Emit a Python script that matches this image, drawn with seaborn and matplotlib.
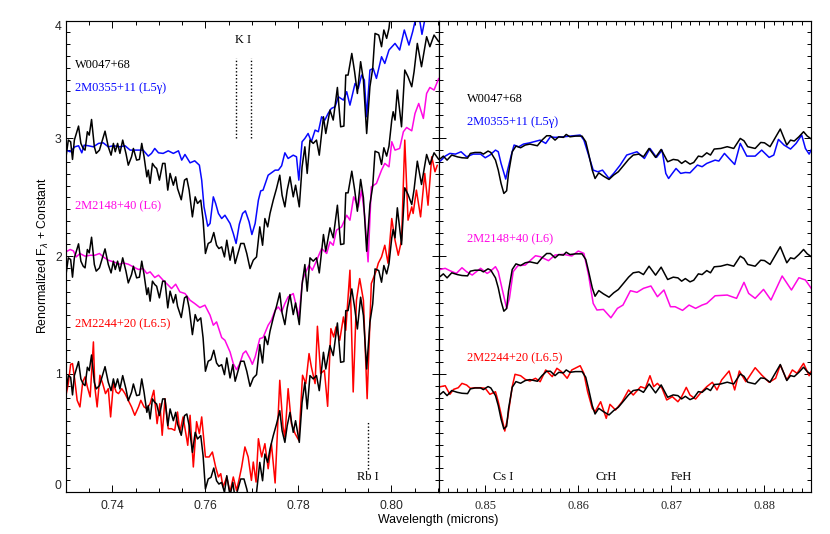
import matplotlib
matplotlib.use("Agg")
import matplotlib.pyplot as plt
import numpy as np
import seaborn as sns
from matplotlib.ticker import MultipleLocator

# ---- left panel spectra: wavelength (microns) and flux ----
wl_black_l = [.7300,.7305,.7310,.7314,.7318,.7327,.7332,.7337,.7341,.7346,.7350,.7355,.7361,.7365,.7372,.7384,.7391,.7397,.7402,.7406,.7411,.7416,.7422,.7429,.7434,.7441,.7445,.7452,.7458,.7463,.7468,.7474,.7477,.7481,.7486,.7491,.7495,.7501,.7508,.7513,.7519,.7524,.7531,.7536,.7540,.7548,.7555,.7560,.7565,.7572,.7578,.7583,.7590,.7595,.7600,.7606,.7612,.7618,.7624,.7629,.7635,.7641,.7646,.7653,.7659,.7664,.7671,.7676,.7683,.7689,.7696,.7703,.7710,.7717,.7723,.7728,.7734,.7739,.7746,.7753,.7760,.7765,.7771,.7776,.7782,.7789,.7794,.7802,.7808,.7814,.7819,.7825,.7832,.7839,.7845,.7854,.7859,.7868,.7875,.7884,.7891,.7898,.7902,.7907,.7915,.7921,.7927,.7934,.7940,.7947,.7954,.7960,.7965,.7973,.7979,.7984,.7990,.7995,.8001,.8004,.8008,.8013,.8022,.8029,.8036,.8044,.8049,.8056,.8065,.8076,.8083,.8092,.8102]
fx_black_l = [.844,.986,.972,.822,.986,1.105,.958,.915,.901,1.057,1.028,1.161,.929,.873,.901,1.062,.929,.858,.958,.887,.958,.873,.986,.873,.773,.844,.915,.816,.822,.958,.844,.674,.731,.618,.788,.759,.745,.646,.788,.788,.561,.703,.603,.674,.575,.479,.646,.660,.561,.334,.504,.448,.476,.306,.023,.108,.122,.201,.093,.065,.079,-.006,.136,-.034,.079,-.062,.037,.108,.108,.023,-.105,-.034,-.006,.249,.093,.320,.249,.363,.476,.575,.688,.518,.419,.561,.674,.504,.603,.419,.759,.929,.703,.986,.958,.986,.858,1.184,1.042,1.241,1.156,1.433,1.099,1.105,1.538,1.538,1.722,1.567,1.382,1.652,1.496,1.042,1.439,1.595,1.892,1.878,1.779,1.921,1.850,1.935,2.156,2.227,2.156,2.411,2.099,2.581,2.524,2.439,2.567,2.807,2.609,2.864,2.779,2.878,2.822]
wl_blue_l = [.7300,.7309,.7319,.7327,.7334,.7339,.7348,.7359,.7370,.7380,.7391,.7402,.7416,.7427,.7438,.7452,.7466,.7477,.7484,.7491,.7499,.7509,.7520,.7531,.7542,.7549,.7556,.7567,.7577,.7587,.7592,.7597,.7605,.7610,.7617,.7622,.7628,.7635,.7642,.7653,.7660,.7666,.7673,.7680,.7686,.7694,.7700,.7707,.7714,.7719,.7724,.7735,.7742,.7750,.7757,.7764,.7771,.7778,.7789,.7796,.7801,.7808,.7814,.7821,.7828,.7836,.7843,.7850,.7857,.7864,.7871,.7879,.7886,.7897,.7904,.7911,.7922,.7929,.7936,.7942,.7947,.7954,.7961,.7968,.7979,.7986,.7995,.8008,.8018,.8028,.8038,.8046,.8051,.8061,.8066,.8072,.8079,.8102]
fx_blue_l = [2.901,2.887,2.929,2.938,2.878,2.943,2.938,2.929,2.958,2.963,2.929,2.938,2.929,2.938,2.901,2.901,2.901,2.850,2.873,2.915,2.878,2.873,2.895,2.873,2.895,2.816,2.864,2.793,2.810,2.773,2.646,2.419,2.255,2.278,2.504,2.448,2.363,2.320,2.348,2.278,2.193,2.108,2.272,2.363,2.385,2.292,2.184,2.278,2.476,2.555,2.561,2.688,2.708,2.731,2.731,2.768,2.878,2.830,2.858,2.844,2.646,2.972,3.0,3.042,2.972,3.071,3.057,3.184,3.156,3.212,3.255,3.269,3.354,3.326,3.397,3.283,3.467,3.425,3.538,3.496,3.184,3.581,3.595,3.510,3.694,3.637,3.751,3.807,3.751,3.921,3.793,3.907,3.992,4.006,3.884,4.006,4.12,4.18]
wl_mag_l = [.7300,.7309,.7316,.7322,.7330,.7341,.7352,.7362,.7372,.7380,.7391,.7402,.7416,.7423,.7434,.7445,.7456,.7466,.7474,.7481,.7491,.7499,.7509,.7520,.7527,.7536,.7545,.7556,.7567,.7577,.7588,.7599,.7610,.7617,.7624,.7635,.7642,.7653,.7660,.7667,.7674,.7681,.7687,.7696,.7701,.7707,.7717,.7724,.7735,.7742,.7750,.7757,.7764,.7771,.7778,.7789,.7796,.7801,.7809,.7816,.7823,.7830,.7838,.7850,.7861,.7868,.7875,.7882,.7893,.7904,.7911,.7919,.7929,.7936,.7943,.7950,.7957,.7968,.7979,.7986,.7995,.8001,.8008,.8018,.8026,.8033,.8044,.8051,.8059,.8069,.8076,.8083,.8092,.8102]
fx_mag_l = [2.037,2.057,2.045,1.994,2.023,2.0,2.008,2.008,2.023,1.994,1.966,1.952,1.932,1.943,1.932,1.909,1.887,1.895,1.853,1.867,1.819,1.839,1.796,1.754,1.725,1.762,1.697,1.683,1.626,1.598,1.564,1.584,1.499,1.414,1.442,1.309,1.286,1.187,1.088,1.037,1.088,1.173,1.195,1.130,1.082,1.144,1.300,1.309,1.414,1.456,1.541,1.569,1.527,1.598,1.654,1.683,1.569,1.484,1.796,1.867,1.924,1.881,1.952,2.065,2.023,2.122,2.093,2.221,2.249,2.348,2.306,2.504,2.419,2.561,2.334,1.952,2.589,2.618,2.731,2.788,2.759,2.972,2.901,2.915,3.057,3.093,3.065,3.212,3.297,3.170,3.382,3.433,3.411,3.510]
wl_red_l = [.7300,.7305,.7310,.7314,.7319,.7324,.7330,.7336,.7341,.7346,.7352,.7359,.7362,.7367,.7373,.7379,.7385,.7391,.7396,.7402,.7408,.7413,.7420,.7427,.7434,.7441,.7448,.7456,.7461,.7468,.7474,.7481,.7489,.7496,.7502,.7507,.7513,.7520,.7527,.7534,.7540,.7545,.7552,.7562,.7567,.7574,.7581,.7587,.7592,.7600,.7608,.7615,.7622,.7628,.7633,.7638,.7646,.7653,.7660,.7667,.7672,.7678,.7685,.7692,.7699,.7703,.7709,.7714,.7721,.7728,.7735,.7742,.7750,.7760,.7767,.7771,.7778,.7785,.7793,.7801,.7809,.7816,.7823,.7828,.7836,.7841,.7848,.7856,.7863,.7870,.7876,.7881,.7889,.7897,.7902,.7911,.7918,.7925,.7932,.7940,.7948,.7957,.7968,.7972,.7979,.7986,.7993,.8001,.8008,.8015,.8022,.8029,.8036,.8044,.8047,.8054,.8063,.8072,.8079,.8087,.8094,.8099]
fx_red_l = [.819,.918,1.082,1.088,.946,.776,.720,.932,.975,.890,.805,1.272,.890,.720,.989,.918,.833,.875,.635,.918,.847,.833,.875,.833,.776,.720,.649,.720,.776,.720,.705,.748,.861,.578,.748,.479,.790,.535,.535,.521,.677,.507,.635,.394,.649,.210,.595,.493,.635,.295,.295,.337,.210,.125,.153,.040,.125,-.003,.125,.011,.096,.210,.380,.295,.096,.252,.082,.450,.295,.408,.195,.408,.074,.946,.550,.465,.875,.578,.493,.436,.989,.918,1.173,1.059,.918,1.405,1.003,1.031,.725,1.385,1.314,1.399,1.286,1.484,1.371,1.881,.847,1.626,1.810,1.626,.790,1.768,1.881,1.940,1.994,2.093,1.940,2.320,2.136,2.008,2.136,2.986,2.306,2.419,2.363,2.561,2.334,2.703,2.433,2.844,2.717,2.773]

# ---- right panel spectra ----
wl_black_r = [.8449,.8452,.8455,.8459,.8464,.8470,.8475,.8481,.8484,.8489,.8495,.8498,.8503,.8506,.8511,.8514,.8517,.8520,.8523,.8525,.8529,.8533,.8538,.8543,.8548,.8556,.8561,.8566,.8570,.8575,.8579,.8584,.8587,.8591,.8597,.8604,.8608,.8611,.8615,.8618,.8622,.8627,.8633,.8638,.8643,.8649,.8654,.8659,.8665,.8670,.8676,.8683,.8689,.8696,.8702,.8707,.8711,.8715,.8720,.8724,.8729,.8733,.8738,.8742,.8746,.8753,.8760,.8767,.8774,.8778,.8782,.8790,.8796,.8800,.8806,.8817,.8824,.8828,.8832,.8837,.8842,.8846,.8851]
fx_black_r = [.815,.830,.850,.816,.859,.844,.836,.833,.873,.881,.881,.867,.893,.881,.816,.731,.618,.533,.556,.703,.887,.935,.921,.944,.952,.938,.986,1.023,1.023,.986,1.014,1.009,1.034,1.014,1.020,1.020,.972,.873,.731,.660,.708,.680,.652,.689,.717,.774,.822,.859,.867,.844,.915,.839,.907,.802,.822,.816,.788,.810,.782,.796,.850,.844,.878,.859,.910,.915,.930,.915,1.000,.980,.930,.915,.966,.963,.930,1.080,.944,.986,.978,1.014,1.057,1.020,.992]
wl_blue_r = [.8449,.8452,.8457,.8462,.8468,.8474,.8480,.8487,.8495,.8500,.8505,.8511,.8514,.8517,.8522,.8524,.8528,.8531,.8536,.8541,.8548,.8559,.8565,.8570,.8575,.8584,.8595,.8602,.8606,.8611,.8616,.8621,.8626,.8633,.8638,.8645,.8652,.8663,.8671,.8677,.8684,.8690,.8694,.8697,.8701,.8705,.8710,.8715,.8720,.8728,.8733,.8738,.8747,.8751,.8757,.8762,.8768,.8774,.8781,.8790,.8797,.8805,.8810,.8815,.8821,.8828,.8834,.8840,.8844,.8848,.8851]
fx_blue_r = [2.800,2.810,2.850,2.873,2.867,2.887,2.844,2.867,2.867,2.836,2.859,2.901,2.887,2.788,2.655,2.731,2.859,2.944,2.929,2.952,2.963,2.986,2.958,3.014,3.009,3.014,3.023,3.029,2.986,2.859,2.731,2.717,2.731,2.660,2.703,2.774,2.859,2.887,2.830,2.915,2.839,2.901,2.703,2.660,2.703,2.745,2.703,2.711,2.708,2.774,2.760,2.788,2.816,2.808,2.873,2.830,2.779,2.958,2.850,2.850,2.901,2.839,2.859,2.992,2.944,2.910,2.958,3.029,2.915,2.867,2.915]
wl_mag_r = [.8449,.8452,.8457,.8462,.8469,.8475,.8480,.8486,.8495,.8502,.8505,.8511,.8514,.8518,.8523,.8526,.8530,.8535,.8543,.8554,.8559,.8568,.8575,.8584,.8593,.8600,.8606,.8611,.8616,.8620,.8627,.8635,.8642,.8648,.8656,.8663,.8670,.8678,.8685,.8692,.8699,.8704,.8712,.8719,.8726,.8733,.8738,.8747,.8760,.8770,.8778,.8783,.8790,.8799,.8807,.8819,.8829,.8837,.8844,.8851]
fx_mag_r = [1.880,1.888,1.897,1.877,1.854,1.902,1.868,1.840,1.897,1.854,1.868,1.911,1.868,1.727,1.557,1.642,1.868,1.919,1.925,2.004,1.996,1.962,2.010,2.016,2.002,2.044,2.024,1.840,1.599,1.543,1.548,1.477,1.557,1.585,1.707,1.693,1.727,1.747,1.656,1.713,1.571,1.571,1.540,1.585,1.557,1.585,1.599,1.664,1.670,1.642,1.778,1.684,1.642,1.718,1.628,1.832,1.713,1.817,1.798,1.718]
wl_red_r = [.8449,.8452,.8457,.8462,.8466,.8471,.8475,.8480,.8484,.8489,.8495,.8500,.8505,.8511,.8514,.8518,.8521,.8524,.8529,.8532,.8538,.8543,.8548,.8554,.8559,.8565,.8572,.8577,.8582,.8588,.8593,.8602,.8606,.8610,.8615,.8618,.8624,.8630,.8634,.8640,.8647,.8654,.8659,.8667,.8672,.8677,.8681,.8685,.8690,.8695,.8701,.8707,.8711,.8716,.8720,.8726,.8731,.8738,.8744,.8749,.8754,.8762,.8768,.8773,.8780,.8790,.8797,.8805,.8812,.8817,.8824,.8830,.8835,.8842,.8848,.8851]
fx_red_r = [.885,.892,.900,.827,.869,.883,.920,.906,.878,.883,.883,.878,.827,.849,.764,.623,.515,.623,.892,.997,.985,.954,.940,.963,.934,1.034,.977,1.048,1.019,.963,1.034,1.070,1.005,.849,.708,.679,.764,.623,.742,.694,.764,.864,.821,.892,.878,.985,.892,.920,.878,.779,.807,.764,.807,.886,.821,.787,.835,.892,.929,.864,.949,1.025,.864,1.025,.934,1.053,.991,.929,.963,1.076,.949,1.034,1.005,1.090,.985,1.034]

offsets_black = [2, 1, 0]
labels_sources = ["W0047+68", "2M0355+11 (L5γ)", "2M2148+40 (L6)", "2M2244+20 (L6.5)"]
BLUE, MAG, RED, BLK = "#0808ff", "#ff08e4", "#ff0000", "#000000"
colors = [BLK, BLUE, MAG, RED]

sns.set_theme(style="ticks", rc={"axes.linewidth": 0.85, "axes.edgecolor": "black"})
plt.rcParams["font.family"] = ["Liberation Sans", "DejaVu Sans"]
plt.rcParams["mathtext.fontset"] = "dejavusans"

W, H = 830, 534
fig = plt.figure(figsize=(W / 100, H / 100), dpi=100)
L, M, R, T, B = 66, 438.7, 811, 20.7, 491.7
axl = fig.add_axes([L / W, 1 - B / H, (M - L) / W, (B - T) / H])
axr = fig.add_axes([M / W, 1 - B / H, (R - M) / W, (B - T) / H])


def spec(ax, x, y, color):
    sns.lineplot(x=x, y=y, ax=ax, color=color, lw=1.1, estimator=None, sort=False,
                 errorbar=None, legend=False, solid_joinstyle="round")


spec(axl, wl_blue_l, fx_blue_l, BLUE)
spec(axl, wl_mag_l, fx_mag_l, MAG)
spec(axl, wl_red_l, fx_red_l, RED)
spec(axr, wl_blue_r, fx_blue_r, BLUE)
spec(axr, wl_mag_r, fx_mag_r, MAG)
spec(axr, wl_red_r, fx_red_r, RED)
for off in offsets_black:
    spec(axl, wl_black_l, np.array(fx_black_l) + off, BLK)
    spec(axr, wl_black_r, np.array(fx_black_r) + off, BLK)

axl.set_xlim(0.73, 0.8102)
axr.set_xlim(0.845, 0.885)
for ax in (axl, axr):
    ax.set_ylim(0, 4)
    ax.set_xlabel("")
    ax.set_ylabel("")
    ax.yaxis.set_major_locator(MultipleLocator(1))
    ax.yaxis.set_minor_locator(MultipleLocator(0.1))
    ax.tick_params(which="major", length=5, width=0.7, direction="in", color="black")
    ax.tick_params(which="minor", length=2.6, width=0.7, direction="in", color="black")
    ax.tick_params(axis="x", labelsize=8.8, pad=6)

axl.xaxis.set_major_locator(MultipleLocator(0.02))
axl.xaxis.set_minor_locator(MultipleLocator(0.005))
axl.tick_params(axis="both", which="both", top=True, right=True, labelsize=8.8)
axl.tick_params(axis="y", pad=3)
axl.set_xticks([0.74, 0.76, 0.78, 0.80])
axl.set_xticklabels(["0.74", "0.76", "0.78", "0.80"])
axl.set_yticks([0, 1, 2, 3, 4], ["0", "1", "2", "3", "4"])
axl.get_yticklabels()[0].set_va("bottom")
axl.get_yticklabels()[-1].set_va("top")

axr.xaxis.set_major_locator(MultipleLocator(0.01))
axr.xaxis.set_minor_locator(MultipleLocator(0.001))
axr.tick_params(axis="both", which="both", top=True, left=True, right=True, labelleft=False)
axr.set_xticks([0.85, 0.86, 0.87, 0.88])
axr.set_xticklabels(["0.85", "0.86", "0.87", "0.88"], family="Liberation Serif", fontsize=8.9)

serif = dict(family="Liberation Serif", fontsize=8.9, va="center", ha="left")
for ax, xt, ys in ((axl, 0.7319, [3.625, 3.43, 2.428, 1.425]),
                   (axr, 0.8480, [3.338, 3.142, 2.14, 1.13])):
    for txt, c, yy in zip(labels_sources, colors, ys):
        ax.text(xt, yy, txt, color=c, **serif)

note = dict(family="Liberation Serif", fontsize=8.9, va="center", ha="center", color="black")
axl.text(0.7682, 3.836, "K I", **note)
axl.text(0.7949, 0.124, "Rb I", **note)
axr.text(0.8519, 0.124, "Cs I", **note)
axr.text(0.8630, 0.124, "CrH", **note)
axr.text(0.8711, 0.124, "FeH", **note)
for xv, y0, y1 in ((0.7665, 3.0, 3.68), (0.7699, 3.0, 3.68), (0.7949, 0.19, 0.59)):
    axl.plot([xv, xv], [y0, y1], color="black", lw=1.0, ls=(0, (1, 1.5)))

fig.text(43 / W, 1 - 256 / H, "Renormalized F$_{\\lambda}$ + Constant", rotation=90,
         ha="center", va="center", fontsize=8.8, color="black")
fig.text(438 / W, 1 - 520 / H, "Wavelength (microns)", ha="center", va="center",
         fontsize=8.9, color="black")

fig.savefig("out.png", dpi=100)
